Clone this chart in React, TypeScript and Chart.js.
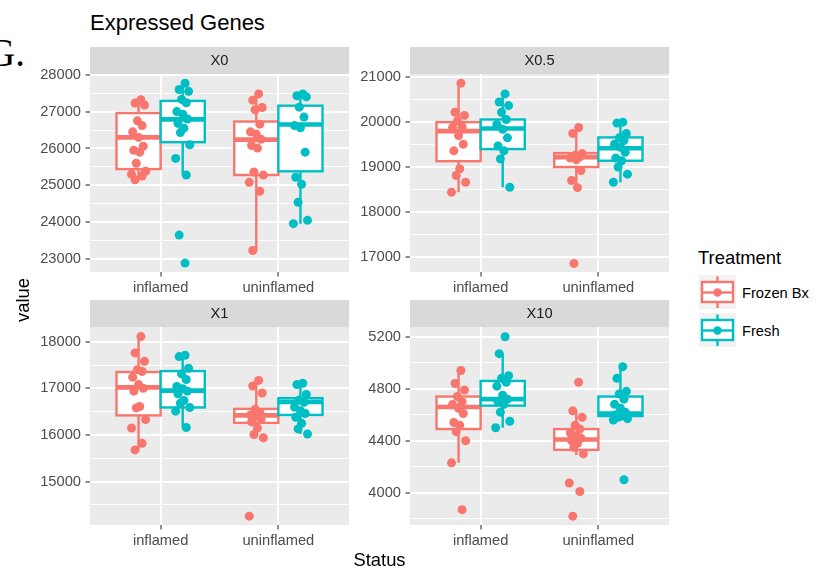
import React, { useEffect, useRef } from "react";
import { Chart, registerables } from "chart.js";
Chart.register(...registerables);

const FONT = '"Liberation Sans", Arial, Helvetica, sans-serif';
const STATUS = ["inflamed", "uninflamed"];
const TREATMENTS = ["Frozen Bx", "Fresh"];
const COLORS = ["#F8766D", "#00BFC4"];

// ---- X0 ----
const X0_FROZEN_INF = [27320, 27230, 27180, 26750, 26620, 26450, 26300, 26060, 25950, 25900, 25600, 25380, 25300, 25250, 25150];
const X0_FRESH_INF = [27770, 27600, 27550, 27330, 27240, 27000, 26930, 26800, 26680, 26550, 26430, 26100, 25730, 25280, 23650, 22890];
const X0_FROZEN_UNINF = [27480, 27310, 27110, 27050, 26660, 26450, 26390, 26250, 26080, 26010, 25360, 25280, 25080, 24840, 23230];
const X0_FRESH_UNINF = [27480, 27430, 27400, 27120, 26850, 26620, 26560, 25900, 25220, 25030, 24540, 24050, 23960];
// box stats: [lower whisker, q1, median, q3, upper whisker]
const X0_BOX_FROZEN_INF = [25150, 25440, 26300, 26960, 27320];
const X0_BOX_FRESH_INF = [25280, 26170, 26790, 27290, 27770];
const X0_BOX_FROZEN_UNINF = [23230, 25280, 26240, 26730, 27490];
const X0_BOX_FRESH_UNINF = [23960, 25380, 26650, 27160, 27480];
const X0_TICKS = [23000, 24000, 25000, 26000, 27000, 28000];
const X0_MINOR = [23500, 24500, 25500, 26500, 27500];

// ---- X0.5 ----
const X05_FROZEN_INF = [20870, 20220, 20150, 20030, 19900, 19880, 19700, 19510, 19360, 18960, 18810, 18660, 18440];
const X05_FRESH_INF = [20630, 20450, 20370, 20220, 20060, 19950, 19840, 19650, 19470, 19360, 19180, 18550];
const X05_FROZEN_UNINF = [19880, 19750, 19300, 19260, 19230, 19200, 19160, 18920, 18700, 18540, 16850];
const X05_FRESH_UNINF = [20000, 19980, 19750, 19650, 19590, 19510, 19440, 19330, 19200, 19140, 19000, 18840, 18660];
const X05_BOX_FROZEN_INF = [18440, 19130, 19800, 20000, 20870];
const X05_BOX_FRESH_INF = [18550, 19400, 19860, 20060, 20630];
const X05_BOX_FROZEN_UNINF = [18540, 19000, 19220, 19310, 19880];
const X05_BOX_FRESH_UNINF = [18660, 19140, 19420, 19660, 20000];
const X05_TICKS = [17000, 18000, 19000, 20000, 21000];
const X05_MINOR = [17500, 18500, 19500, 20500];

// ---- X1 ----
const X1_FROZEN_INF = [18110, 17760, 17580, 17400, 17360, 17240, 17080, 17000, 16940, 16610, 16580, 16330, 16150, 15820, 15680];
const X1_FRESH_INF = [17710, 17680, 17430, 17310, 17190, 17040, 16990, 16940, 16880, 16740, 16680, 16590, 16510, 16160];
const X1_FROZEN_UNINF = [17170, 17050, 16900, 16550, 16480, 16430, 16400, 16330, 16280, 16150, 16010, 15940, 14260];
const X1_FRESH_UNINF = [17110, 17080, 16870, 16750, 16700, 16600, 16520, 16460, 16380, 16250, 16130, 16020];
const X1_BOX_FROZEN_INF = [15680, 16420, 17020, 17350, 18110];
const X1_BOX_FRESH_INF = [16160, 16590, 16950, 17370, 17710];
const X1_BOX_FROZEN_UNINF = [15940, 16260, 16420, 16560, 17170];
const X1_BOX_FRESH_UNINF = [16020, 16430, 16710, 16790, 17110];
const X1_TICKS = [15000, 16000, 17000, 18000];
const X1_MINOR = [14500, 15500, 16500, 17500];

// ---- X10 ----
const X10_FROZEN_INF = [4940, 4840, 4790, 4740, 4700, 4680, 4650, 4610, 4540, 4520, 4470, 4400, 4230, 3870];
const X10_FRESH_INF = [5200, 5070, 4900, 4880, 4850, 4820, 4750, 4720, 4700, 4680, 4620, 4550, 4500];
const X10_FROZEN_UNINF = [4850, 4630, 4580, 4520, 4490, 4460, 4440, 4420, 4400, 4380, 4350, 4300, 4075, 4010, 3820];
const X10_FRESH_UNINF = [4970, 4880, 4780, 4760, 4720, 4680, 4650, 4620, 4600, 4590, 4580, 4570, 4560, 4100];
const X10_BOX_FROZEN_INF = [4230, 4490, 4660, 4740, 4940];
const X10_BOX_FRESH_INF = [4500, 4670, 4720, 4860, 5070];
const X10_BOX_FROZEN_UNINF = [4290, 4330, 4410, 4490, 4630];
const X10_BOX_FRESH_UNINF = [4560, 4590, 4610, 4740, 4970];
const X10_TICKS = [4000, 4400, 4800, 5200];
const X10_MINOR = [3800, 4200, 4600, 5000];

// horizontal jitter (in category units) applied to the points
const JITTER = [0.02, -0.03, 0.05, -0.01, 0.03, -0.05, 0.0, 0.04, -0.04, 0.01, -0.02, 0.06, -0.06, 0.03, -0.03, 0.02];

type PanelDef = {
  title: string;
  yMin: number;
  yMax: number;
  ticks: number[];
  minor: number[];
  series: number[][][]; // [treatment][status] -> values
  boxes: number[][][]; // [treatment][status] -> stats
  left: number;
  top: number;
};

const PANELS: PanelDef[] = [
  {
    title: "X0", yMin: 22648, yMax: 28020, ticks: X0_TICKS, minor: X0_MINOR,
    series: [[X0_FROZEN_INF, X0_FROZEN_UNINF], [X0_FRESH_INF, X0_FRESH_UNINF]],
    boxes: [[X0_BOX_FROZEN_INF, X0_BOX_FROZEN_UNINF], [X0_BOX_FRESH_INF, X0_BOX_FRESH_UNINF]],
    left: 30, top: 47,
  },
  {
    title: "X0.5", yMin: 16659, yMax: 21074, ticks: X05_TICKS, minor: X05_MINOR,
    series: [[X05_FROZEN_INF, X05_FROZEN_UNINF], [X05_FRESH_INF, X05_FRESH_UNINF]],
    boxes: [[X05_BOX_FROZEN_INF, X05_BOX_FROZEN_UNINF], [X05_BOX_FRESH_INF, X05_BOX_FRESH_UNINF]],
    left: 350, top: 47,
  },
  {
    title: "X1", yMin: 14070, yMax: 18315, ticks: X1_TICKS, minor: X1_MINOR,
    series: [[X1_FROZEN_INF, X1_FROZEN_UNINF], [X1_FRESH_INF, X1_FRESH_UNINF]],
    boxes: [[X1_BOX_FROZEN_INF, X1_BOX_FROZEN_UNINF], [X1_BOX_FRESH_INF, X1_BOX_FRESH_UNINF]],
    left: 30, top: 300,
  },
  {
    title: "X10", yMin: 3752, yMax: 5275, ticks: X10_TICKS, minor: X10_MINOR,
    series: [[X10_FROZEN_INF, X10_FROZEN_UNINF], [X10_FRESH_INF, X10_FRESH_UNINF]],
    boxes: [[X10_BOX_FROZEN_INF, X10_BOX_FROZEN_UNINF], [X10_BOX_FRESH_INF, X10_BOX_FRESH_UNINF]],
    left: 350, top: 300,
  },
];

const CANVAS_W = 329;
const CANVAS_H = 250;
const STRIP_H = 27;
const DODGE = 0.1875; // half of a dodged box slot

function Panel({ def }: { def: PanelDef }) {
  const ref = useRef<HTMLCanvasElement | null>(null);
  useEffect(() => {
    const canvas = ref.current!;
    const isMajor = (v: number) => def.ticks.includes(v);

    const bgPlugin = {
      id: "ggpanel",
      beforeDraw(chart: any) {
        const { ctx, chartArea: a } = chart;
        ctx.save();
        ctx.fillStyle = "#EBEBEB";
        ctx.fillRect(a.left, a.top, a.right - a.left, a.bottom - a.top);
        ctx.fillStyle = "#D9D9D9";
        ctx.fillRect(a.left, a.top - STRIP_H, a.right - a.left, STRIP_H);
        ctx.fillStyle = "#1A1A1A";
        ctx.font = `14.7px ${FONT}`;
        ctx.textAlign = "center";
        ctx.textBaseline = "middle";
        ctx.fillText(def.title, (a.left + a.right) / 2, a.top - STRIP_H / 2 + 0.5);
        ctx.restore();
      },
    };

    const boxPlugin = {
      id: "ggbox",
      beforeDatasetsDraw(chart: any) {
        const { ctx } = chart;
        const xs = chart.scales.x;
        const ys = chart.scales.y;
        ctx.save();
        def.boxes.forEach((byStatus, t) => {
          byStatus.forEach((stats, s) => {
            const center = s + 1 + (t === 0 ? -DODGE : DODGE);
            const xc = xs.getPixelForValue(center);
            const half = xs.getPixelForValue(center + DODGE) - xc;
            const [lo, q1, med, q3, hi] = stats.map((v) => ys.getPixelForValue(v));
            ctx.strokeStyle = COLORS[t];
            ctx.lineWidth = 2.4;
            ctx.beginPath();
            ctx.moveTo(xc, q3);
            ctx.lineTo(xc, hi);
            ctx.moveTo(xc, q1);
            ctx.lineTo(xc, lo);
            ctx.stroke();
            ctx.fillStyle = "#FFFFFF";
            ctx.fillRect(xc - half, q3, half * 2, q1 - q3);
            ctx.strokeRect(xc - half, q3, half * 2, q1 - q3);
            ctx.lineWidth = 4.6;
            ctx.beginPath();
            ctx.moveTo(xc - half, med);
            ctx.lineTo(xc + half, med);
            ctx.stroke();
          });
        });
        ctx.restore();
      },
    };

    const datasets = TREATMENTS.map((name, t) => ({
      label: name,
      order: t === 0 ? 1 : 0,
      data: def.series[t].flatMap((vals, s) =>
        vals.map((v, i) => ({
          x: s + 1 + (t === 0 ? -DODGE : DODGE) + JITTER[i % JITTER.length],
          y: v,
        }))
      ),
      backgroundColor: COLORS[t],
      borderWidth: 0,
      pointRadius: 4.5,
      pointHoverRadius: 4.5,
    }));

    const tickFont = { family: FONT, size: 14.7 };

    const chart = new Chart(canvas, {
      type: "scatter",
      data: { datasets },
      options: {
        animation: false,
        responsive: false,
        devicePixelRatio: 1,
        events: [],
        layout: { padding: { top: STRIP_H, right: 10, left: 0, bottom: 0 } },
        plugins: { legend: { display: false }, tooltip: { enabled: false }, title: { display: false } },
        scales: {
          x: {
            type: "linear",
            min: 0.4,
            max: 2.6,
            afterBuildTicks: (s: any) => {
              s.ticks = [1, 2].map((v) => ({ value: v }));
            },
            afterFit: (s: any) => {
              s.height = 25;
            },
            ticks: {
              autoSkip: false,
              maxRotation: 0,
              minRotation: 0,
              padding: 3,
              color: "#4D4D4D",
              font: tickFont,
              callback: (v: any) => STATUS[Math.round(Number(v)) - 1] ?? "",
            },
            grid: { color: "#FFFFFF", lineWidth: 2, tickLength: 4.5, tickColor: "#333333", tickWidth: 1.1 },
            border: { display: false },
          },
          y: {
            type: "linear",
            min: def.yMin,
            max: def.yMax,
            afterBuildTicks: (s: any) => {
              s.ticks = [...def.ticks, ...def.minor].sort((a, b) => a - b).map((v) => ({ value: v }));
            },
            afterFit: (s: any) => {
              s.width = 60;
            },
            ticks: {
              autoSkip: false,
              padding: 4.5,
              color: "#4D4D4D",
              font: tickFont,
              callback: (v: any) => (isMajor(Number(v)) ? String(v) : ""),
            },
            grid: {
              color: "#FFFFFF",
              lineWidth: (c: any) => (c.tick && isMajor(c.tick.value) ? 2 : 1),
              tickLength: 4.5,
              tickColor: (c: any) => (c.tick && isMajor(c.tick.value) ? "#333333" : "rgba(0,0,0,0)"),
              tickWidth: 1.1,
            },
            border: { display: false },
          },
        },
      },
      plugins: [bgPlugin, boxPlugin],
    } as any);
    return () => chart.destroy();
  }, [def]);

  return (
    <canvas
      ref={ref}
      width={CANVAS_W}
      height={CANVAS_H}
      style={{ position: "absolute", left: def.left, top: def.top, width: CANVAS_W, height: CANVAS_H }}
    />
  );
}

function LegendKey({ color, top }: { color: string; top: number }) {
  const ref = useRef<HTMLCanvasElement | null>(null);
  useEffect(() => {
    const c = ref.current!;
    const ctx = c.getContext("2d")!;
    ctx.clearRect(0, 0, 37, 34);
    ctx.fillStyle = "#F2F2F2";
    ctx.fillRect(0, 0, 37, 34);
    ctx.strokeStyle = color;
    ctx.lineWidth = 2.4;
    ctx.beginPath();
    ctx.moveTo(18.5, 1.5);
    ctx.lineTo(18.5, 33);
    ctx.stroke();
    ctx.fillStyle = "#FFFFFF";
    ctx.fillRect(3, 7, 31, 20);
    ctx.strokeRect(3, 7, 31, 20);
    ctx.beginPath();
    ctx.moveTo(3, 17.5);
    ctx.lineTo(34, 17.5);
    ctx.stroke();
    ctx.fillStyle = color;
    ctx.beginPath();
    ctx.arc(18.5, 17.5, 4.2, 0, Math.PI * 2);
    ctx.fill();
  }, [color]);
  return <canvas ref={ref} width={37} height={34} style={{ position: "absolute", left: 699, top, width: 37, height: 34 }} />;
}

export default function App() {
  const text = (extra: React.CSSProperties): React.CSSProperties => ({
    position: "absolute",
    fontFamily: FONT,
    whiteSpace: "nowrap",
    color: "#000000",
    ...extra,
  });
  return (
    <div
      style={{
        position: "fixed",
        left: 0,
        top: 0,
        width: 829,
        height: 569,
        background: "#FFFFFF",
        overflow: "hidden",
      }}
    >
      <div style={text({ left: -13, top: 33, fontFamily: '"Liberation Serif", "Times New Roman", serif', fontSize: 39, lineHeight: "39px" })}>G.</div>
      <div style={text({ left: 90, top: 12, fontSize: 22, lineHeight: "22px" })}>Expressed Genes</div>
      {PANELS.map((p) => (
        <Panel key={p.title} def={p} />
      ))}
      <div
        style={text({
          left: 23 - 40,
          top: 300 - 10,
          width: 80,
          textAlign: "center",
          fontSize: 18.4,
          lineHeight: "20px",
          transform: "rotate(-90deg)",
        })}
      >
        value
      </div>
      <div style={text({ left: 379.5 - 40, top: 549.5, width: 80, textAlign: "center", fontSize: 18.4, lineHeight: "20px" })}>Status</div>
      <div style={text({ left: 698, top: 247.5, fontSize: 18.4, lineHeight: "20px" })}>Treatment</div>
      <LegendKey color={COLORS[0]} top={275} />
      <LegendKey color={COLORS[1]} top={313} />
      <div style={text({ left: 742, top: 285, fontSize: 14.7, lineHeight: "16px" })}>{TREATMENTS[0]}</div>
      <div style={text({ left: 742, top: 323, fontSize: 14.7, lineHeight: "16px" })}>{TREATMENTS[1]}</div>
    </div>
  );
}
